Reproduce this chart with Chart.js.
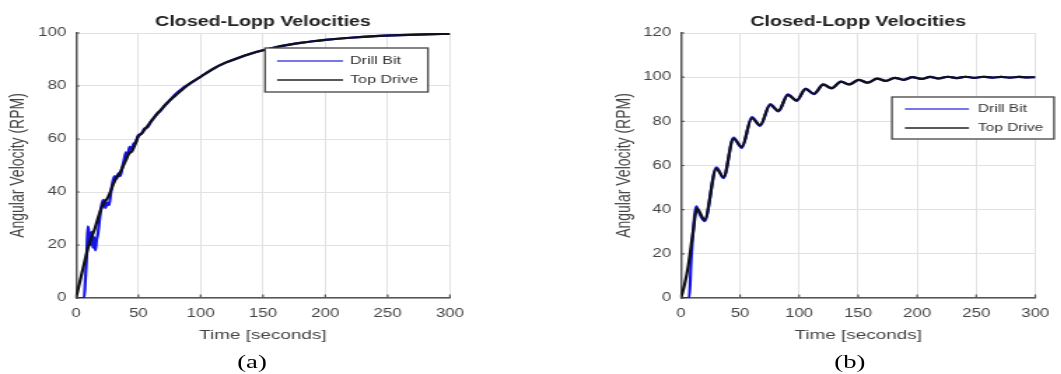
<!DOCTYPE html>
<html>
<head>
<meta charset="utf-8">
<script src="https://cdn.jsdelivr.net/npm/chart.js@4"></script>
<style>
  html, body { margin: 0; padding: 0; background: #fff; overflow: hidden; }
  /* the figure is laid out narrow and stretched horizontally */
  #page { position: absolute; left: 0; top: 0; width: 758px; height: 374px;
          transform: scaleX(1.4); transform-origin: 0 0; }
  .panel { position: absolute; top: 0; width: 379px; height: 374px; }
  canvas { display: block; }
  .cap { position: absolute; top: 351px; width: 40px; line-height: 22px; text-align: center;
         font-family: "Liberation Serif", "Times New Roman", serif; font-size: 19px; color: #000; }
</style>
</head>
<body>
<div id="page">
  <div class="panel" style="left:0"><canvas id="chartA" width="379" height="374"></canvas></div>
  <div class="panel" style="left:379px"><canvas id="chartB" width="379" height="374"></canvas></div>
  <div class="cap" style="left:160px">(a)</div>
  <div class="cap" style="left:587px">(b)</div>
</div>
<script>
// ---- Panel (a): smooth response ----
const timeTopA = [0,5,10,12.5,15,17.5,20,22.5,25,27.5,30,32.5,35,37.5,40,42.5,45,47.5,50,52.5,55,57.5,60,65,70,75,80,90,100,110,120,130,140,150,160,170,180,190,200,220,240,260,280,300];
const topDriveA = [0,10,19.5,23,26,30,33.5,36,37.5,40,43,45.5,47,49.5,52,54.5,55.5,58,61,62,63.5,65,66.5,69.5,72,74.5,76.5,80.5,83.5,86.5,88.8,90.6,92.2,93.5,94.6,95.5,96.3,96.9,97.4,98.2,98.8,99.2,99.5,99.7];
const timeBitA = [0,6.5,7.5,8.5,9.5,10.5,11.5,12.5,13.5,14.5,15.5,16.5,17.5,19,20.5,22,23.5,25,26.5,28,29.5,31,32.5,34,35.5,37,38.5,40,41.5,43,44.5,46,48,50,52.5,55,57.5,60,62.5,65,67.5,70,75,80,85,90,100,110,120,130,140,150,160,170,180,190,200,220,240,260,280,300];
const drillBitA = [0,0,7,15,27,24,20,25,19,23,18,22,24,30,35,37,34,36,35,40,44,46,45,47,46,49,52,55,54,57,56,58,59,61.5,62,64,64.5,66.5,68,69.5,70.5,72,74.5,77,79,80.5,83.5,86.5,88.8,90.6,92.2,93.5,94.6,95.5,96.3,96.9,97.4,98.2,98.8,99.2,99.5,99.7];

// ---- Panel (b): oscillating response ----
const timeTopB = [0,3,6,10,13.5,20,30,36,44.5,51.5,60,67,75.5,82.5,90.5,98,105.5,112.5,120.5,127.5,135.5,142.5,150.5,158,166,173.5,181,188.5,196,203.5,211,218.5,226,233.5,241,248.5,256,263.5,271,278.5,286,293.5,300];
const topDriveB = [0,6,14,29,40.5,35.5,58.5,54.8,72,68.5,81.4,78.3,87.4,84.8,91.9,89.5,94.6,92.5,96.6,95,98,96.7,98.8,97.5,99.3,98.3,99.7,98.8,100,99.2,100.1,99.4,100.2,99.6,100.2,99.7,100.2,99.8,100.1,99.8,100.1,99.9,100];
const timeBitB = [0,7,8.5,10,13,15,20,30,36,44.5,51.5,60,67,75.5,82.5,90.5,98,105.5,112.5,120.5,127.5,135.5,142.5,150.5,158,166,173.5,181,188.5,196,203.5,211,218.5,226,233.5,241,248.5,256,263.5,271,278.5,286,293.5,300];
const drillBitB = [0,0,16,28,41.5,39,34.8,59.2,54.3,72.6,68,81.9,77.9,87.8,84.5,92.2,89.3,94.8,92.3,96.7,94.9,98,96.7,98.8,97.5,99.3,98.3,99.7,98.8,100,99.2,100.1,99.4,100.2,99.6,100.2,99.7,100.2,99.8,100.1,99.8,100.1,99.9,100];

const xTicks = [0,50,100,150,200,250,300];
const seriesNames = ['Drill Bit', 'Top Drive'];
const titleText = 'Closed-Lopp Velocities';
const xTitle = 'Time [seconds]';
const yTitle = 'Angular Velocity (RPM)';

const FONT = 'Arial, "Liberation Sans", Helvetica, sans-serif';

function pairs(xs, ys) { return xs.map((x, i) => ({ x: x, y: ys[i] })); }

// small inward tick marks on the left and bottom axes
const innerTicks = {
  id: 'innerTicks',
  afterDatasetsDraw(chart) {
    const { ctx, chartArea: a, scales: { x, y } } = chart;
    ctx.save();
    ctx.strokeStyle = '#555';
    ctx.lineWidth = 1.2;
    ctx.beginPath();
    x.ticks.forEach(t => { const px = x.getPixelForValue(t.value); ctx.moveTo(px, a.bottom); ctx.lineTo(px, a.bottom - 3.5); });
    y.ticks.forEach(t => { const py = y.getPixelForValue(t.value); ctx.moveTo(a.left, py); ctx.lineTo(a.left + 2.5, py); });
    ctx.stroke();
    ctx.restore();
  }
};

// boxed legend drawn inside the axes
const boxLegend = {
  id: 'boxLegend',
  afterDraw(chart, args, o) {
    const ctx = chart.ctx;
    ctx.save();
    ctx.fillStyle = '#fff';
    ctx.fillRect(o.x, o.y, o.w, o.h);
    ctx.strokeStyle = '#444';
    ctx.lineWidth = 1.3;
    ctx.strokeRect(o.x, o.y, o.w, o.h);
    ctx.font = o.fontSize + 'px ' + FONT;
    ctx.textBaseline = 'middle';
    ctx.textAlign = 'left';
    chart.data.datasets.forEach((ds, i) => {
      const ry = o.rows[i];
      ctx.strokeStyle = ds.legendColor;
      ctx.lineWidth = 1.4;
      ctx.beginPath();
      ctx.moveTo(o.lineX0, ry);
      ctx.lineTo(o.lineX1, ry);
      ctx.stroke();
      ctx.fillStyle = '#333';
      ctx.fillText(ds.label, o.textX, ry);
    });
    ctx.restore();
  }
};

function makeChart(id, cfg) {
  return new Chart(document.getElementById(id), {
    type: 'line',
    data: {
      datasets: [
        { label: seriesNames[0], data: pairs(cfg.tBit, cfg.bit), borderColor: '#1414e6', legendColor: '#4a4ad8',
          borderWidth: 2.2, pointRadius: 0, cubicInterpolationMode: 'monotone', order: 1 },
        { label: seriesNames[1], data: pairs(cfg.tTop, cfg.top), borderColor: '#101018', legendColor: '#222',
          borderWidth: 2.2, pointRadius: 0, cubicInterpolationMode: 'monotone', order: 0 }
      ]
    },
    options: {
      responsive: false,
      animation: false,
      devicePixelRatio: 1,
      layout: { padding: { left: 0, right: cfg.padRight, top: 0, bottom: 0 } },
      plugins: {
        legend: { display: false },
        tooltip: { enabled: false },
        title: {
          display: true, text: titleText, fullSize: false, color: '#222',
          font: { family: FONT, size: 14, weight: 'bold' },
          padding: { top: 13.6, bottom: 2.6 }
        },
        boxLegend: cfg.legend
      },
      scales: {
        x: {
          type: 'linear', min: 0, max: 300,
          afterBuildTicks: s => { s.ticks = xTicks.map(v => ({ value: v })); },
          afterFit: s => { s.height = 76; },
          grid: { color: '#e2e2e2', lineWidth: 1, drawTicks: false },
          border: { display: true, color: '#555', width: 1.5 },
          ticks: { color: '#444', padding: 8.5, font: { family: FONT, size: 12 }, maxRotation: 0 },
          title: { display: true, text: xTitle, color: '#444', font: { family: FONT, size: 13.5 }, padding: { top: 0, bottom: 30.9 } }
        },
        y: {
          type: 'linear', min: 0, max: cfg.yMax,
          afterBuildTicks: s => { s.ticks = cfg.yTicks.map(v => ({ value: v })); },
          afterFit: s => { s.width = cfg.yWidth; },
          grid: { color: '#e2e2e2', lineWidth: 1, drawTicks: false },
          border: { display: true, color: '#555', width: 1.5 },
          ticks: { color: '#444', padding: 7, font: { family: FONT, size: 12 } },
          title: { display: true, text: yTitle, color: '#444', font: { family: FONT, size: 14 }, padding: { top: cfg.yTitlePad, bottom: 0 } }
        }
      }
    },
    plugins: [innerTicks, boxLegend]
  });
}

makeChart('chartA', {
  tTop: timeTopA, top: topDriveA, tBit: timeBitA, bit: drillBitA,
  yMax: 100, yTicks: [0,20,40,60,80,100], yWidth: 54.3, padRight: 57.6, yTitlePad: 4.5,
  legend: { x: 189.3, y: 48, w: 116.4, h: 44, lineX0: 197.9, lineX1: 245, textX: 250, rows: [61, 80], fontSize: 11.5 }
});

makeChart('chartB', {
  tTop: timeTopB, top: topDriveB, tBit: timeBitB, bit: drillBitB,
  yMax: 120, yTicks: [0,20,40,60,80,100,120], yWidth: 107.4, padRight: 12.3, yTitlePad: 59,
  legend: { x: 258.1, y: 97, w: 115.8, h: 42, lineX0: 267.4, lineX1: 313.1, textX: 319.6, rows: [109, 128], fontSize: 11 }
});
</script>
</body>
</html>
